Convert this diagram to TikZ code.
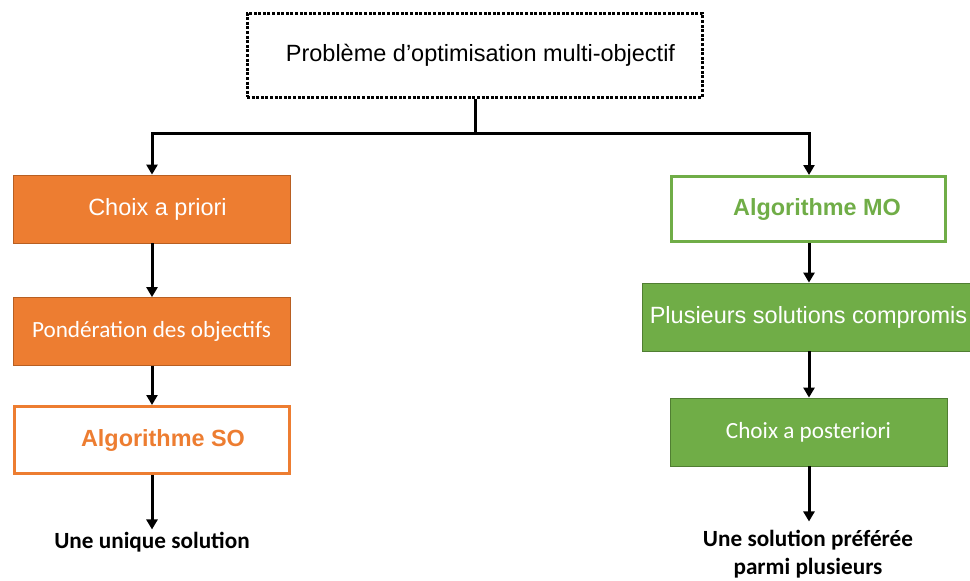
\documentclass[tikz,border=0pt]{standalone}
\usepackage{fontspec}
\setmainfont{Liberation Sans}
\newfontfamily\calibri{Carlito}
\usetikzlibrary{arrows.meta}
\definecolor{orangeF}{HTML}{ED7D31}
\definecolor{orangeD}{HTML}{B85F22}
\definecolor{greenF}{HTML}{70AD47}
\definecolor{greenD}{HTML}{507E32}
\tikzset{
  txt/.style={font=\fontsize{23.5}{28}\selectfont},
  cal/.style={font=\calibri\fontsize{23.2}{28}\selectfont},
  calb/.style={font=\calibri\bfseries\fontsize{23.2}{28}\selectfont, align=center},
  topbox/.style={draw=black, line width=3pt, dash pattern=on 3pt off 1.6pt, fill=white, minimum width=455pt, minimum height=84pt, inner sep=0pt},
  obox/.style={draw=orangeD, line width=0.8pt, fill=orangeF, text=white, minimum width=277pt, minimum height=68pt, inner sep=0pt},
  gbox/.style={draw=greenD, line width=0.8pt, fill=greenF, text=white, minimum height=68pt, inner sep=0pt},
  owbox/.style={draw=orangeF, line width=3pt, fill=white, text=orangeF, font=\bfseries\fontsize{23.4}{28}\selectfont, minimum width=275pt, minimum height=67pt, inner sep=0pt},
  gwbox/.style={draw=greenF, line width=3pt, fill=white, text=greenF, font=\bfseries\fontsize{23.4}{28}\selectfont, minimum width=274pt, minimum height=65pt, inner sep=0pt},
  conn/.style={line width=3pt, -{Triangle[width=11pt,length=10pt]}},
  plain/.style={line width=3pt}
}
\begin{document}
\begin{tikzpicture}[x=1pt,y=-1pt]
\useasboundingbox (0,0) rectangle (970,581);
\clip (0,0) rectangle (970,581);
\node[topbox, txt] (top) at (474.5,55) {\hspace*{12pt}Problème d’optimisation multi-objectif};
% left column
\node[obox, txt] (apriori) at (151.5,209) {\hspace*{12pt}Choix a priori};
\node[obox, cal] (ponder) at (151.5,331.5) {Pondération des objectifs};
\node[owbox] (algoso) at (152,440) {\hspace*{22pt}Algorithme SO};
\node[calb] (unique) at (152,542) {Une unique solution};
% right column
\node[gwbox] (algomo) at (808.5,209) {\hspace*{17pt}Algorithme MO};
\node[gbox, txt, minimum width=333pt] (plusieurs) at (808.5,317) {Plusieurs solutions compromis};
\node[gbox, cal, minimum width=277pt] (aposteriori) at (808.5,432) {Choix a posteriori};
\node[calb] (preferee) at (808,554) {Une solution préférée\\parmi plusieurs};
% connectors
\coordinate (junc) at (475,133);
\draw[plain] (top.south -| junc) -- (junc);
\draw[conn] (junc) -| ([xshift=0.5pt]apriori.north);
\draw[conn] (junc) -| ([xshift=0.5pt]algomo.north);
\draw[conn] ([xshift=0.5pt]apriori.south) -- ([xshift=0.5pt]ponder.north);
\draw[conn] ([xshift=0.5pt]ponder.south) -- (algoso.north);
\draw[conn] (algoso.south) -- ([yshift=-1pt]unique.north);
\draw[conn] ([xshift=0.5pt]algomo.south) -- ([xshift=0.5pt]plusieurs.north);
\draw[conn] ([xshift=0.5pt]plusieurs.south) -- ([xshift=0.5pt]aposteriori.north);
\draw[conn] ([xshift=0.5pt]aposteriori.south) -- ([xshift=0.5pt,yshift=5pt]aposteriori.south |- preferee.north);
\end{tikzpicture}
\end{document}
